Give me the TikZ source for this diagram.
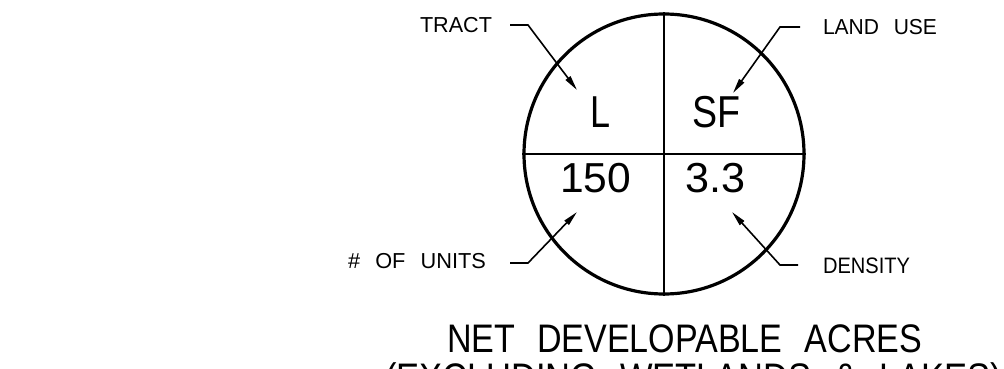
\documentclass[tikz,border=0pt]{standalone}
\usepackage{fontspec}
\setmainfont{Liberation Sans}
\usetikzlibrary{arrows.meta}
\newcommand\fitbox[3]{\resizebox{#1}{#2}{\raisebox{0pt}[0.716em][0pt]{#3}}}
\newcommand\wgap{\hspace{0.7em}}
\newcommand\tgap{\hspace{0.65em}}
\tikzset{
  lbl/.style={inner sep=0pt, outer sep=0pt, anchor=south west},
  heavy/.style={line width=3.2pt},
  divider/.style={line width=2.8pt},
  leader/.style={line width=1.6pt, -{Triangle[length=15pt,width=6pt]}},
}
\begin{document}
\begin{tikzpicture}[x=1pt,y=-1pt]
\useasboundingbox (0,0) rectangle (1004,369);
% circle and dividers
\node[circle, draw, heavy, minimum size=280pt, inner sep=0pt] (c) at (664,154) {};
\draw[divider] (c.north) -- (c.south);
\draw[divider] (c.west) -- (c.east);
% quadrant values
\node[lbl] (tl) at (590,127) {\fitbox{20pt}{32pt}{L}};
\node[lbl] (tr) at (692,127) {\fitbox{48pt}{32pt}{SF}};
\node[lbl] (bl) at (560,192) {\fitbox{71pt}{30pt}{150}};
\node[lbl] (br) at (685,192) {\fitbox{60pt}{30pt}{3.3}};
% labels
\node[lbl] (tract) at (420,33) {\fitbox{72pt}{15.5pt}{TRACT}};
\node[lbl] (landuse) at (823,35) {\fitbox{114pt}{15.5pt}{LAND\wgap USE}};
\node[lbl] (units) at (348,268) {\fitbox{138pt}{15.5pt}{\#\wgap OF\wgap UNITS}};
\node[lbl] (density) at (823,273) {\fitbox{87pt}{16pt}{DENSITY}};
% title
\node[lbl] (title1) at (447,352) {\fitbox{475pt}{28.5pt}{NET\tgap DEVELOPABLE\tgap ACRES}};
\node[lbl] (title2) at (385,391) {\fitbox{617pt}{28.5pt}{(EXCLUDING\tgap WETLANDS\tgap \&\tgap LAKES)}};
% leader coordinates
\coordinate (trS) at (510,25);  \coordinate (trB) at (528,25);  \coordinate (trT) at (577,90);
\coordinate (luS) at (800,27);  \coordinate (luB) at (780,27);  \coordinate (luT) at (733,93);
\coordinate (unS) at (510,263); \coordinate (unB) at (528,263); \coordinate (unT) at (577,212);
\coordinate (deS) at (798,265); \coordinate (deB) at (780,265); \coordinate (deT) at (732,212);
\draw[leader] (trS) -- (trB) -- (trT);
\draw[leader] (luS) -- (luB) -- (luT);
\draw[leader] (unS) -- (unB) -- (unT);
\draw[leader] (deS) -- (deB) -- (deT);
\end{tikzpicture}
\end{document}
